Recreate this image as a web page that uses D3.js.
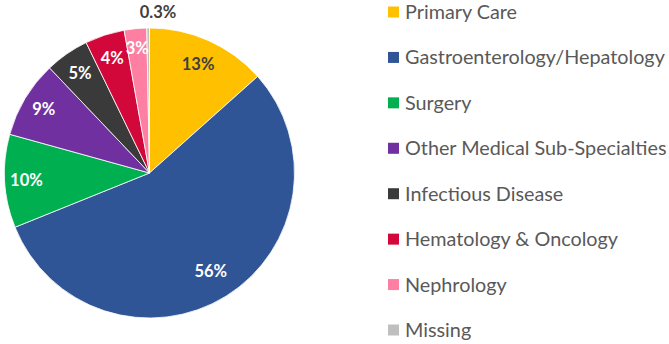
<!DOCTYPE html>
<html>
<head>
<meta charset="utf-8">
<script src="https://cdn.jsdelivr.net/npm/d3@7"></script>
<style>
  body { margin: 0; background: #fff; }
  svg { display: block; }
</style>
</head>
<body>
<div class="canvas"></div>
<script>
// data
const categories = ['Primary Care', 'Gastroenterology/Hepatology', 'Surgery', 'Other Medical Sub-Specialties',
  'Infectious Disease', 'Hematology & Oncology', 'Nephrology', 'Missing']
const values = [13.4, 55.5, 10.4, 8.6, 4.9, 4.4, 2.5, 0.3]
const labels = ['13%', '56%', '10%', '9%', '5%', '4%', '3%', '0.3%']
const colors = ['#ffc000', '#2f5597', '#00b050', '#7030a0', '#3a3a3a', '#d2083a', '#ff7fa3', '#bfbfbf']
const labelColors = ['#404040', '#fff', '#fff', '#fff', '#fff', '#fff', '#fff', '#404040']

const svgWidth = 669
const svgHeight = 344

const svg = d3.select('.canvas')
  .append('svg')
  .attr('width', svgWidth)
  .attr('height', svgHeight)

const cx = 149.5, cy = 173, radius = 145

const pie = d3.pie().sort(null).value(d => d.v)
const arc = d3.arc().innerRadius(0).outerRadius(radius)

const data = categories.map((c, i) => ({c, v: values[i], label: labels[i], color: colors[i], lc: labelColors[i]}))
const arcs = pie(data)

const graph = svg.append('g')
  .attr('transform', `translate(${cx}, ${cy})`)

graph.selectAll('path')
  .data(arcs)
  .enter()
  .append('path')
  .attr('d', arc)
  .attr('fill', d => d.data.color)
  .attr('stroke', '#fff')
  .attr('stroke-width', 0.8)

// label radius per slice (the tiny one sits outside, nudged right)
const labelR = [0.82, 0.8, 0.85, 0.85, 0.84, 0.83, 0.865, 1.11]
const labelDx = [0, 0, 0, 0, 0, 0, 0, 10]
graph.selectAll('text.val')
  .data(arcs)
  .enter()
  .append('text')
  .attr('class', 'val')
  .attr('transform', (d, i) => {
    const a = (d.startAngle + d.endAngle) / 2
    const r = radius * labelR[i]
    return `translate(${Math.sin(a) * r + labelDx[i]}, ${-Math.cos(a) * r})`
  })
  .attr('text-anchor', 'middle')
  .attr('dy', '0.35em')
  .attr('font-family', 'Lato, sans-serif')
  .attr('font-weight', 'bold')
  .attr('font-size', '16.5px')
  .attr('fill', d => d.data.lc)
  .text(d => d.data.label)

// legend
const legendY = d3.scalePoint().domain(categories).range([12, 330])
const legend = svg.append('g').attr('transform', 'translate(388, 0)')

const items = legend.selectAll('g')
  .data(data)
  .enter()
  .append('g')
  .attr('transform', d => `translate(0, ${legendY(d.c)})`)

items.append('rect')
  .attr('x', 0).attr('y', -5.5)
  .attr('width', 11).attr('height', 11)
  .attr('fill', d => d.color)

items.append('text')
  .attr('x', 17)
  .attr('dy', '0.35em')
  .attr('font-family', 'Lato, sans-serif')
  .attr('font-size', '19.8px')
  .attr('fill', '#595959')
  .text(d => d.c)
</script>
</body>
</html>
